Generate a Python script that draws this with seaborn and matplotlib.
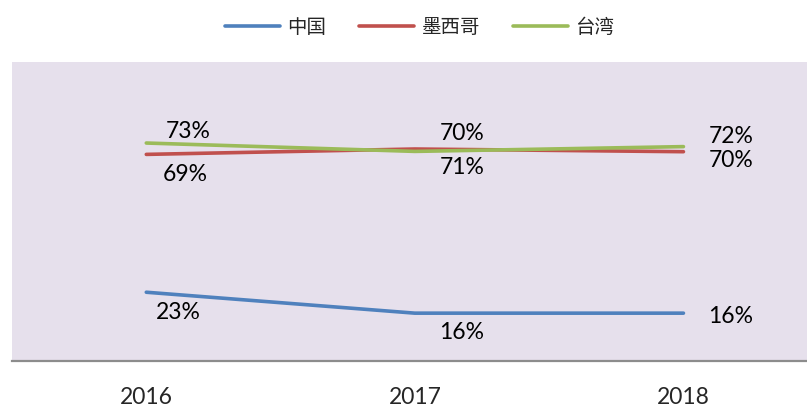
import numpy as np
import seaborn as sns
import matplotlib.pyplot as plt
import pandas as pd

sns.set_theme(style="white")
plt.rcParams['font.family'] = ['Lato', 'Noto Sans CJK SC', 'DejaVu Sans']

# data (line heights) and the printed labels
years = ["2016", "2017", "2018"]
china = [23, 16, 16]
mexico = [69.1, 70.9, 70.0]
taiwan = [72.9, 70.1, 71.7]
china_labels = ["23%", "16%", "16%"]
mexico_labels = ["69%", "70%", "70%"]
taiwan_labels = ["73%", "71%", "72%"]
series_names = ["中国", "墨西哥", "台湾"]

data = pd.DataFrame({
    "year": years * 3,
    "value": china + mexico + taiwan,
    "country": [n for n in series_names for _ in years],
})

colors = {"中国": "#4F81BD", "墨西哥": "#C0504D", "台湾": "#9BBB59"}

fig = plt.figure(figsize=(8.07, 4.08), dpi=100)
ax = fig.add_axes([12 / 807, 47 / 408, 795 / 807, 299 / 408])
ax.set_facecolor("#E6E0EC")

sns.lineplot(data=data, x="year", y="value", hue="country", palette=colors,
             linewidth=2.6, ax=ax, sort=False)

ax.set_ylim(0, 100)
ax.set_xlim(-0.5, 2.46)
ax.set_yticks([])
ax.set_xlabel("")
ax.set_ylabel("")
ax.tick_params(axis="x", labelsize=16.5, pad=19, length=0)
for s in ["top", "right", "left"]:
    ax.spines[s].set_visible(False)
ax.spines["bottom"].set_color("#8C8C8C")
ax.spines["bottom"].set_linewidth(1.6)

# label offsets in pixels (dx, dy, ha)
offsets = {
    "中国": [(32, -20, "center"), (47, -19, "center"), (25, -3, "left")],
    "墨西哥": [(39, -20, "center"), (47, 16, "center"), (25, -9, "left")],
    "台湾": [(42, 12, "center"), (47, -16, "center"), (25, 10, "left")],
}
vals = {"中国": china, "墨西哥": mexico, "台湾": taiwan}
labels = {"中国": china_labels, "墨西哥": mexico_labels, "台湾": taiwan_labels}
for name in series_names:
    for i, v in enumerate(vals[name]):
        dx, dy, ha = offsets[name][i]
        ax.annotate(labels[name][i], (i, v), xytext=(dx, dy), textcoords="offset pixels",
                    ha=ha, va="center", fontsize=16.5, color="black")

ax.legend(loc="upper center", bbox_to_anchor=(0.513, 1.21), ncol=3, frameon=False,
          handlelength=2.8, columnspacing=1.7, handletextpad=0.4,
          prop={"family": ["Noto Sans CJK SC", "DejaVu Sans"], "size": 14})

fig.savefig("out.png", dpi=100)
